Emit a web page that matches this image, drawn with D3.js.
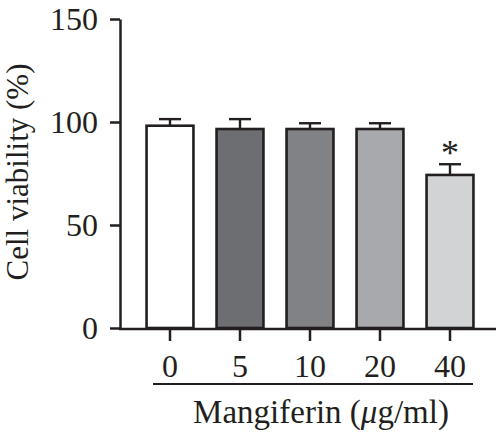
<!DOCTYPE html>
<html><head><meta charset="utf-8">
<script src="https://cdn.jsdelivr.net/npm/d3@7/dist/d3.min.js"></script>
<style>
html,body{margin:0;padding:0;background:#fff;}
svg{display:block;}
text{font-family:"Liberation Serif","Times New Roman",serif;fill:#231f20;}
</style></head>
<body>
<svg id="chart" width="496" height="441"></svg>
<script>
const categories = ["0", "5", "10", "20", "40"];
const values = [98.2, 96.6, 96.6, 96.6, 74.3];
const errors = [3.2, 4.8, 2.8, 2.8, 5.2];
const significant = [false, false, false, false, true];
const fills = ["#ffffff", "#6d6e71", "#808285", "#a7a9ac", "#d1d3d4"];
const yTicks = [0, 50, 100, 150];

const ink = "#231f20";
const svg = d3.select("#chart");

const y = d3.scaleLinear().domain([0, 150]).range([328, 19]);
const x = d3.scaleBand().domain(categories).range([135, 485])
  .paddingInner(0.33).paddingOuter(0.165);

// bars
svg.append("g").selectAll("rect").data(categories).join("rect")
  .attr("x", d => x(d))
  .attr("y", (d, i) => y(values[i]))
  .attr("width", x.bandwidth())
  .attr("height", (d, i) => y(0) - y(values[i]))
  .attr("fill", (d, i) => fills[i])
  .attr("stroke", ink)
  .attr("stroke-width", 2.6);

// error bars (upper only)
const eg = svg.append("g").attr("stroke", ink).attr("stroke-width", 2.4);
categories.forEach((c, i) => {
  const cx = x(c) + x.bandwidth() / 2;
  eg.append("line").attr("x1", cx).attr("x2", cx)
    .attr("y1", y(values[i])).attr("y2", y(values[i] + errors[i]));
  eg.append("line").attr("x1", cx - 11).attr("x2", cx + 11)
    .attr("y1", y(values[i] + errors[i])).attr("y2", y(values[i] + errors[i]));
  if (significant[i]) {
    svg.append("text").attr("x", cx).attr("y", y(values[i] + errors[i]) + 1)
      .attr("text-anchor", "middle").attr("font-size", 36).text("*");
  }
});

// y axis
const yAxis = d3.axisLeft(y).tickValues(yTicks).tickSize(10).tickSizeOuter(0).tickPadding(12);
const gy = svg.append("g").attr("transform", "translate(120,0)").call(yAxis);
gy.select(".domain").attr("stroke", ink).attr("stroke-width", 2.5);
gy.selectAll(".tick line").attr("stroke", ink).attr("stroke-width", 2.5);
gy.selectAll(".tick text").attr("font-size", 32).attr("fill", ink)
  .attr("dy", "0.32em").style("font-family", '"Liberation Serif",serif');

// x axis
const xAxis = d3.axisBottom(x).tickSize(12).tickSizeOuter(0).tickPadding(13);
const gx = svg.append("g").attr("transform", "translate(0,329)").call(xAxis);
gx.select(".domain").remove();
gx.selectAll(".tick line").attr("stroke", ink).attr("stroke-width", 2.5);
gx.selectAll(".tick text").attr("font-size", 32).attr("fill", ink)
  .attr("dy", "0.71em").style("font-family", '"Liberation Serif",serif');
svg.append("line").attr("x1", 119).attr("x2", 496).attr("y1", 329).attr("y2", 329)
  .attr("stroke", ink).attr("stroke-width", 2.5);

// bracket line under categories
svg.append("line").attr("x1", 153).attr("x2", 473).attr("y1", 384).attr("y2", 384)
  .attr("stroke", ink).attr("stroke-width", 2);

// x title
const xt = svg.append("text").attr("x", 321).attr("y", 423).attr("text-anchor", "middle")
  .attr("font-size", 33);
xt.append("tspan").text("Mangiferin (");
xt.append("tspan").attr("font-style", "italic").text("μ");
xt.append("tspan").text("g/ml)");

// y title
svg.append("text").attr("transform", "translate(28,172) rotate(-90)")
  .attr("text-anchor", "middle").attr("font-size", 31).text("Cell viability (%)");
</script>
</body></html>
